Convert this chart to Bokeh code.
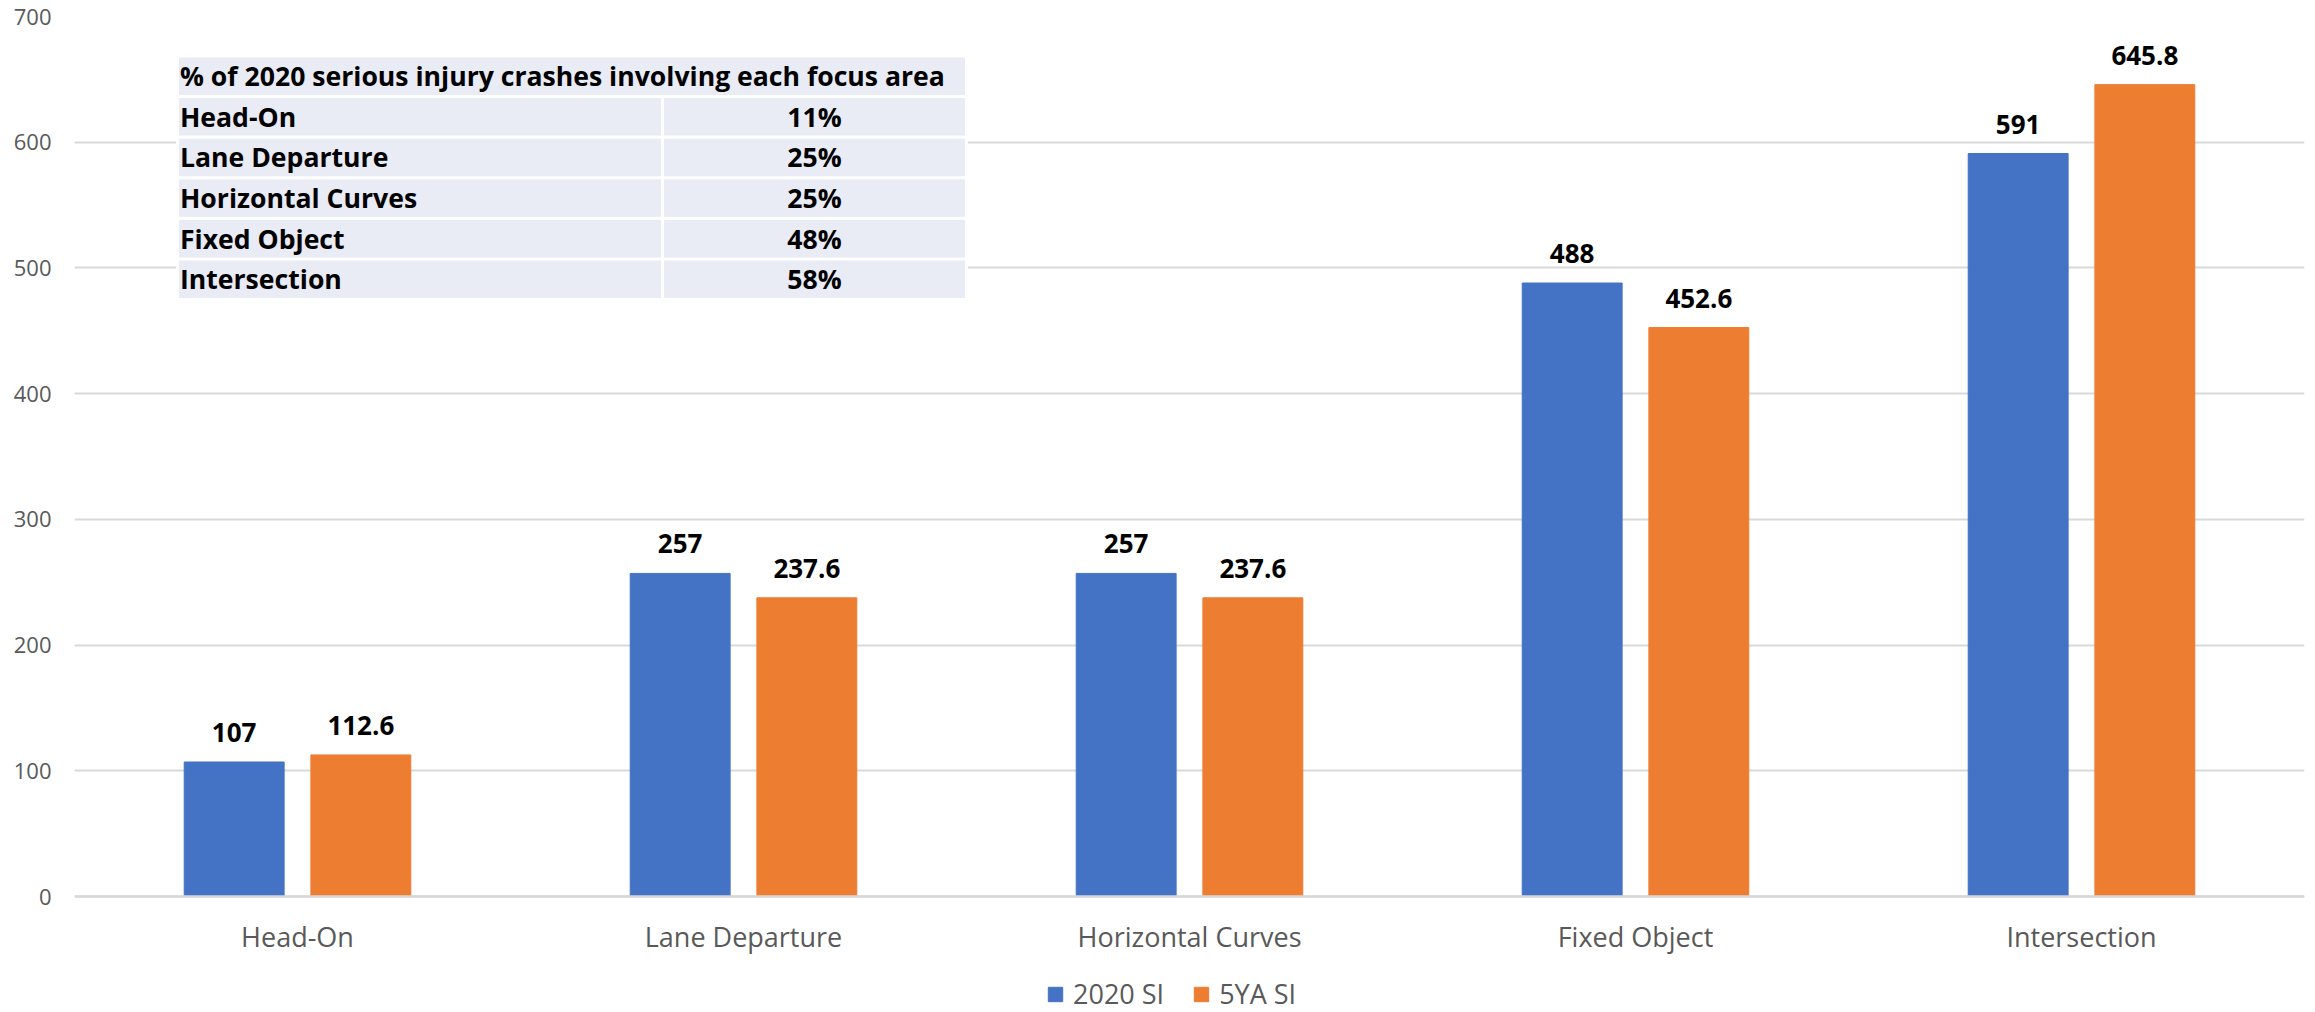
from bokeh.plotting import figure
from bokeh.models import (ColumnDataSource, FactorRange, Range1d, FixedTicker,
                          LabelSet, Legend, LegendItem)
from bokeh.transform import dodge
from bokeh.core.properties import value
from bokeh.embed import file_html
from bokeh.resources import INLINE

# ---------------- data ----------------
categories = ["Head-On", "Lane Departure", "Horizontal Curves", "Fixed Object", "Intersection"]
si_2020 = [107, 257, 257, 488, 591]
si_5ya = [112.6, 237.6, 237.6, 452.6, 645.8]
series_names = ["2020 SI", "5YA SI"]
y_ticks = [0, 100, 200, 300, 400, 500, 600, 700]

table_title = "% of 2020 serious injury crashes involving each focus area"
table_areas = ["Head-On", "Lane Departure", "Horizontal Curves", "Fixed Object", "Intersection"]
table_pct = [11, 25, 25, 48, 58]

# ---------------- style / layout ----------------
FONT_NAME = "Open Sans"
FONT = value(FONT_NAME)
BLUE = "#4472C4"
ORANGE = "#ED7D31"
GRID = "#d9d9d9"
GRAY_TXT = "#595959"
CELL = "#e9ebf5"

W, H = 2315, 1012
B_LEFT, B_RIGHT, B_TOP, B_BOTTOM = 74, 11, 16, 0
FRAME_W = W - B_LEFT - B_RIGHT
FRAME_H = H - B_TOP - B_BOTTOM
ZERO_PX = 896            # pixel row of the value axis' zero line
Y_MAX = 700
PX_PER_UNIT = (ZERO_PX - B_TOP) / Y_MAX
Y_MIN = -(H - ZERO_PX) / PX_PER_UNIT   # room below the zero line for labels/legend

OFFSET = 0.142
BAR_W = 0.224
n_cat = len(categories)


def fmt(v):
    return f"{v:g}"


def dx(px):
    return (px - B_LEFT) / FRAME_W * n_cat


def dy(py):
    return (ZERO_PX - py) / PX_PER_UNIT


p = figure(
    x_range=FactorRange(factors=categories, range_padding=0, factor_padding=0),
    y_range=Range1d(Y_MIN, Y_MAX),
    width=W, height=H,
    output_backend="svg", toolbar_location=None,
    min_border_left=B_LEFT, min_border_right=B_RIGHT,
    min_border_top=B_TOP, min_border_bottom=B_BOTTOM,
    outline_line_color=None,
    background_fill_color="white", border_fill_color="white",
)

src = ColumnDataSource(dict(
    cat=categories,
    a=si_2020, b=si_5ya,
    la=[fmt(v) for v in si_2020], lb=[fmt(v) for v in si_5ya],
))

# ---------------- axes / grid ----------------
p.yaxis.ticker = FixedTicker(ticks=y_ticks)
p.yaxis.axis_line_color = None
p.yaxis.major_tick_line_color = None
p.yaxis.minor_tick_line_color = None
p.yaxis.major_tick_out = 0
p.yaxis.major_tick_in = 0
p.yaxis.major_label_standoff = 23
p.yaxis.major_label_text_font = FONT_NAME
p.yaxis.major_label_text_font_size = "22px"
p.yaxis.major_label_text_color = GRAY_TXT

p.xaxis.fixed_location = 0
p.xaxis.axis_line_color = GRID
p.xaxis.axis_line_width = 2.5
p.xaxis.major_tick_line_color = None
p.xaxis.minor_tick_line_color = None
p.xaxis.major_tick_out = 0
p.xaxis.major_tick_in = 0
p.xaxis.major_label_standoff = 21
p.xaxis.major_label_text_font = FONT_NAME
p.xaxis.major_label_text_font_size = "27px"
p.xaxis.major_label_text_color = GRAY_TXT

p.xgrid.grid_line_color = None
p.ygrid.grid_line_color = GRID
p.ygrid.grid_line_width = 2

# ---------------- bars + value labels ----------------
r1 = p.vbar(x=dodge("cat", -OFFSET, range=p.x_range), top="a", width=BAR_W,
            source=src, fill_color=BLUE, line_color=BLUE)
r2 = p.vbar(x=dodge("cat", OFFSET, range=p.x_range), top="b", width=BAR_W,
            source=src, fill_color=ORANGE, line_color=ORANGE)

for xoff, col in ((-OFFSET, "a"), (OFFSET, "b")):
    p.add_layout(LabelSet(
        x=dodge("cat", xoff, range=p.x_range), y=col, text="l" + col, source=src,
        text_align="center", text_baseline="alphabetic", y_offset=20,
        text_font=FONT, text_font_size="26px", text_font_style="bold",
        text_color="black"))

# ---------------- overlay table ----------------
T_LEFT, T_RIGHT, T_SPLIT = 178.5, 964.5, 662
T_TOP, ROW_PITCH, ROW_H = 57, 40.6, 37.5
GAP = 3
TBL_FONT = "26.6px"

p.quad(left=[dx(T_LEFT - 3)], right=[dx(T_RIGHT + 3)],
       top=[dy(T_TOP - 3)], bottom=[dy(T_TOP + ROW_PITCH * len(table_areas) + ROW_H + 3)],
       fill_color="white", line_color=None)

p.quad(left=[dx(T_LEFT)], right=[dx(T_RIGHT)], top=[dy(T_TOP)], bottom=[dy(T_TOP + ROW_H)],
       fill_color=CELL, line_color=None)
p.text(x=[dx(T_LEFT + 1)], y=[dy(T_TOP + ROW_H / 2)], text=[table_title],
       text_align="left", text_baseline="middle", text_font=FONT,
       text_font_size=TBL_FONT, text_font_style="bold", text_color="black")

tops = [T_TOP + ROW_PITCH * (i + 1) for i in range(len(table_areas))]
tsrc = ColumnDataSource(dict(
    l1=[dx(T_LEFT)] * len(tops), r1=[dx(T_SPLIT - GAP / 2)] * len(tops),
    l2=[dx(T_SPLIT + GAP / 2)] * len(tops), r2=[dx(T_RIGHT)] * len(tops),
    top=[dy(t) for t in tops], bottom=[dy(t + ROW_H) for t in tops],
    mid=[dy(t + ROW_H / 2) for t in tops],
    xa=[dx(T_LEFT + 1)] * len(tops),
    xp=[dx((T_SPLIT + GAP / 2 + T_RIGHT) / 2)] * len(tops),
    area=table_areas, pct=[f"{v}%" for v in table_pct],
))
p.quad(left="l1", right="r1", top="top", bottom="bottom", source=tsrc,
       fill_color=CELL, line_color=None)
p.quad(left="l2", right="r2", top="top", bottom="bottom", source=tsrc,
       fill_color=CELL, line_color=None)
p.text(x="xa", y="mid", text="area", source=tsrc, text_align="left",
       text_baseline="middle", text_font=FONT, text_font_size=TBL_FONT,
       text_font_style="bold", text_color="black")
p.text(x="xp", y="mid", text="pct", source=tsrc, text_align="center",
       text_baseline="middle", text_font=FONT, text_font_size=TBL_FONT,
       text_font_style="bold", text_color="black")

# ---------------- legend ----------------
legend = Legend(
    items=[LegendItem(label=series_names[0], renderers=[r1]),
           LegendItem(label=series_names[1], renderers=[r2])],
    orientation="horizontal", location=(972, 0),
    padding=0, margin=0, spacing=28, label_standoff=9,
    glyph_width=18, glyph_height=18,
    label_text_font=FONT_NAME, label_text_font_size="27px", label_text_color=GRAY_TXT,
    border_line_color=None, background_fill_alpha=0,
)
p.add_layout(legend)

open("out.html", "w").write(file_html(p, INLINE))
